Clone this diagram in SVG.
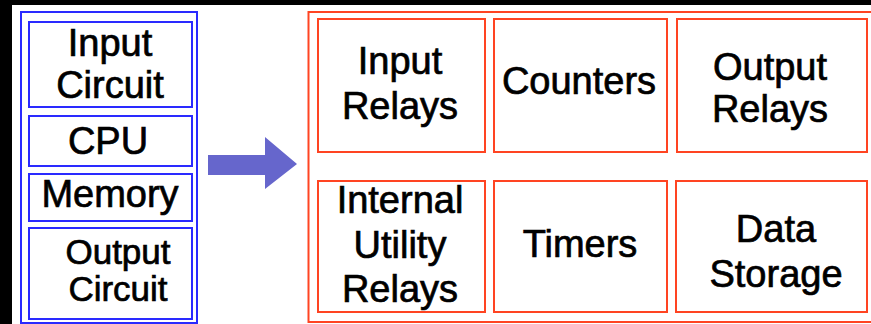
<svg xmlns="http://www.w3.org/2000/svg" width="871" height="324" viewBox="0 0 871 324">
<style>
.bl{fill:none;stroke:#2a2aff;stroke-width:2}
.or{fill:none;stroke:#ff4422;stroke-width:2}
text{font-family:"Liberation Sans",Arial,sans-serif;font-size:38px;fill:#000;stroke:#000;stroke-width:0.7;text-anchor:middle}
.sm{font-size:35px}
</style>
<rect x="0" y="0" width="871" height="324" fill="#000"/>
<rect x="12" y="5" width="859" height="319" fill="#fff"/>
<g id="plc">
<rect class="bl" x="21" y="12" width="176" height="311"/>
<g id="input-circuit"><rect class="bl" x="29" y="22" width="163" height="85"/><text x="110" y="56">Input</text><text x="110" y="98">Circuit</text></g>
<g id="cpu"><rect class="bl" x="29" y="116" width="163" height="50"/><text x="108" y="154">CPU</text></g>
<g id="memory"><rect class="bl" x="29" y="174" width="163" height="47"/><text x="110" y="207">Memory</text></g>
<g id="output-circuit"><rect class="bl" x="29" y="228" width="163" height="91"/><text class="sm" x="118" y="264">Output</text><text class="sm" x="118" y="301">Circuit</text></g>
</g>
<g id="connectors">
<polygon points="208,155 265,155 265,137 297,164 265,189 265,175 208,175" fill="#6666cc"/>
</g>
<g id="memory-areas">
<rect class="or" x="308.5" y="12" width="600" height="310"/>
<g id="input-relays"><rect class="or" x="318" y="19" width="167" height="133"/><text x="400" y="74">Input</text><text x="400" y="119">Relays</text></g>
<g id="counters"><rect class="or" x="494" y="19" width="173" height="133"/><text x="579" y="94">Counters</text></g>
<g id="output-relays"><rect class="or" x="677" y="19" width="190" height="133"/><text x="770" y="80">Output</text><text x="770" y="122">Relays</text></g>
<g id="internal-utility-relays"><rect class="or" x="318" y="181" width="167" height="131"/><text x="400" y="213">Internal</text><text x="400" y="258">Utility</text><text x="400" y="302">Relays</text></g>
<g id="timers"><rect class="or" x="494" y="181" width="173" height="131"/><text x="580" y="257">Timers</text></g>
<g id="data-storage"><rect class="or" x="676" y="181" width="191" height="131"/><text x="776" y="242">Data</text><text x="776" y="287">Storage</text></g>
</g>
</svg>
